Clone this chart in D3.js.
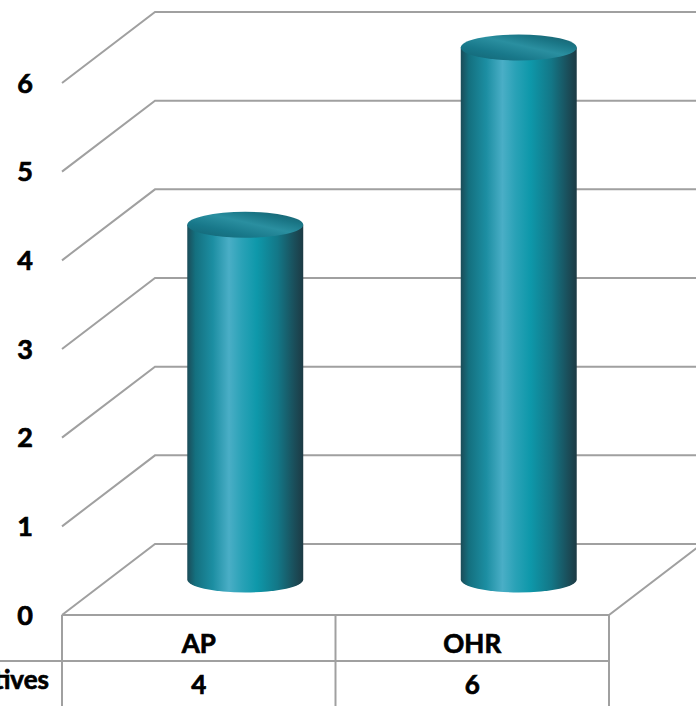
<!DOCTYPE html>
<html>
<head>
<meta charset="utf-8">
<script src="https://cdn.jsdelivr.net/npm/d3@7/dist/d3.min.js"></script>
<style>
  html, body { margin: 0; padding: 0; background: #fff; overflow: hidden; }
  svg { display: block; font-family: Lato, "Open Sans", sans-serif; font-weight: 700; }
  text { stroke: #000; stroke-width: 0.7px; }
</style>
</head>
<body>
<svg id="chart" width="696" height="706"></svg>
<script>
// Chart data
const categories = ["AP", "OHR"];
const values = [4, 6];
const seriesName = "Objectives";
const yTicks = [0, 1, 2, 3, 4, 5, 6];

const W = 696, H = 706;
const svg = d3.select("#chart");

// Front plane of the 3D box, plus the depth offset to the back wall
const frontLeft = 62, frontRight = 609;
const depth = { dx: 93, dy: -71 };

const y = d3.scaleLinear().domain([0, 6]).range([615, 83]);
const x = d3.scaleBand().domain(categories).range([frontLeft, frontRight]);

const gridColor = "#a0a0a0";

// Gradients for the cylinders
const defs = svg.append("defs");
const bodyGrad = defs.append("linearGradient").attr("id", "cylBody")
  .attr("x1", "0%").attr("x2", "100%").attr("y1", "0%").attr("y2", "0%");
[
  [0, "#1b4c58"], [0.07, "#14707f"], [0.22, "#1c8ea2"], [0.36, "#4aaec6"],
  [0.47, "#2aa2b7"], [0.6, "#0e98aa"], [0.78, "#137787"], [0.92, "#1a4f5b"], [1, "#1c3a44"]
].forEach(([o, c]) => bodyGrad.append("stop").attr("offset", o).attr("stop-color", c));

const capGrad = defs.append("linearGradient").attr("id", "cylTop")
  .attr("x1", "0%").attr("x2", "100%").attr("y1", "100%").attr("y2", "0%");
[
  [0, "#136372"], [0.3, "#18788a"], [0.55, "#2a8fa0"], [0.75, "#1a7686"], [1, "#195a67"]
].forEach(([o, c]) => capGrad.append("stop").attr("offset", o).attr("stop-color", c));

// Gridlines: diagonal along the left wall, then straight along the back wall
const grid = svg.append("g").attr("fill", "none").attr("stroke", gridColor).attr("stroke-width", 2);
yTicks.forEach(t => {
  const yf = y(t);
  grid.append("path").attr("d", d3.line()([
    [frontLeft, yf],
    [frontLeft + depth.dx, yf + depth.dy],
    [frontRight + depth.dx, yf + depth.dy]
  ]));
});

// Floor: front edge and right diagonal edge
grid.append("path").attr("d", d3.line()([
  [frontLeft, y(0)], [frontRight, y(0)], [frontRight + depth.dx, y(0) + depth.dy]
]));

// Y axis labels
svg.append("g").selectAll("text").data(yTicks).join("text")
  .attr("x", 33).attr("y", d => y(d))
  .attr("dy", "0.36em")
  .attr("text-anchor", "end")
  .attr("font-size", 27)
  .attr("fill", "#000")
  .text(d => d);

// Cylinders, centred at mid-depth of the floor
const rx = x.bandwidth() * 0.212, ry = 13;
const cyl = svg.append("g").selectAll("g").data(categories.map((c, i) => ({ c, v: values[i] }))).join("g");
cyl.each(function(d) {
  const g = d3.select(this);
  const cx = x(d.c) + x.bandwidth() / 2 + depth.dx / 2;
  const yb = y(0) + depth.dy / 2;
  const yt = y(d.v) + depth.dy / 2;
  g.append("path")
    .attr("d", `M${cx - rx},${yt} L${cx - rx},${yb} A${rx},${ry} 0 0 0 ${cx + rx},${yb} L${cx + rx},${yt} Z`)
    .attr("fill", "url(#cylBody)");
  g.append("ellipse")
    .attr("cx", cx).attr("cy", yt).attr("rx", rx).attr("ry", ry)
    .attr("fill", "url(#cylTop)");
});

// Data table below the floor
const table = svg.append("g").attr("stroke", gridColor).attr("stroke-width", 2);
const rowSplit = 661;
table.append("line").attr("x1", 0).attr("x2", frontRight).attr("y1", rowSplit).attr("y2", rowSplit);
[frontLeft, x("OHR"), frontRight].forEach(xx => {
  table.append("line").attr("x1", xx).attr("x2", xx).attr("y1", y(0)).attr("y2", H);
});

const txt = svg.append("g").attr("font-size", 26).attr("fill", "#000").attr("text-anchor", "middle");
categories.forEach((c, i) => {
  const cx = x(c) + x.bandwidth() / 2;
  txt.append("text").attr("x", cx).attr("y", 653).text(c);
  txt.append("text").attr("x", cx).attr("y", 694).text(values[i]);
});
txt.append("text").attr("x", 49).attr("y", 689).attr("text-anchor", "end").text(seriesName);
</script>
</body>
</html>
